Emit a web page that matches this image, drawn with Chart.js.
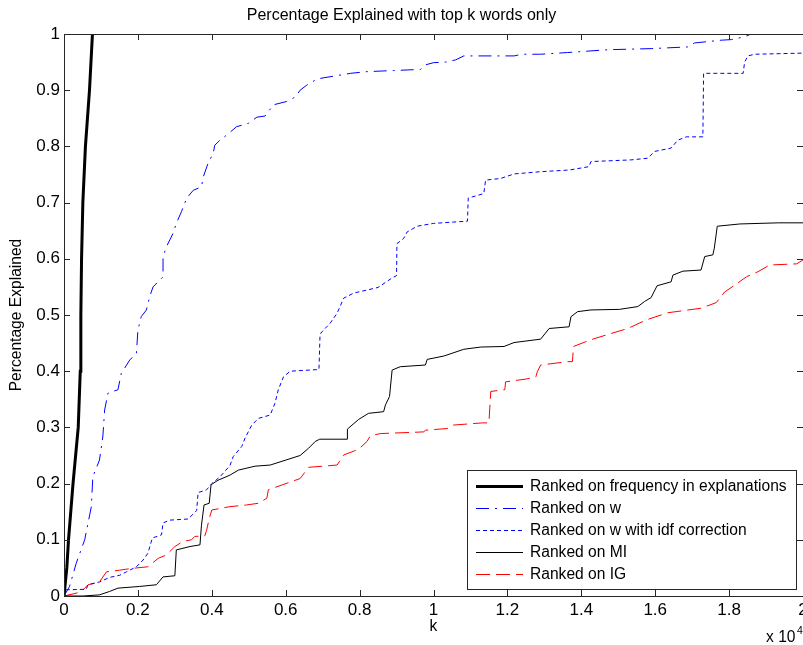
<!DOCTYPE html>
<html>
<head>
<meta charset="utf-8">
<script src="https://cdn.jsdelivr.net/npm/chart.js@4"></script>
<style>
  body { margin: 0; background: #fff; }
</style>
</head>
<body>
<canvas id="pct-chart" width="803" height="645"></canvas>
<script>
var FONT = "'Liberation Sans', Arial, sans-serif";

var seriesLabels = [
  "Ranked on frequency in explanations",
  "Ranked on w",
  "Ranked on w with idf correction",
  "Ranked on MI",
  "Ranked on IG"
];

var xTicks = [0, 2000, 4000, 6000, 8000, 10000, 12000, 14000, 16000, 18000, 20000];
var yTicks = [0, 0.1, 0.2, 0.3, 0.4, 0.5, 0.6, 0.7, 0.8, 0.9, 1];

// ranked on frequency in explanations
var freqK = [0, 76, 122, 244, 385, 440, 456, 475, 510, 580, 690, 770];
var freqPct = [0, 0.05, 0.1, 0.2, 0.3, 0.4, 0.5, 0.6, 0.7, 0.8, 0.9, 1.0];

// ranked on w
var wK = [0, 150, 330, 560, 740, 780, 960, 1050, 1100, 1190, 1460, 1550, 1780, 1960, 2000, 2090, 2230, 2320, 2410,
  2680, 2680, 2770, 2950, 3040, 3180, 3320, 3500, 3720, 3770, 3900, 4040, 4080, 4220, 4400, 4670, 4990, 5220, 5440,
  5670, 6030, 6260, 6390, 6570, 6800, 6930, 7300, 7750, 8200, 8920, 9650, 9780, 10000, 10330, 10600, 10820, 12180,
  12410, 12900, 13630, 14710, 15890, 16880, 17060, 17790, 18060, 18420, 18560, 20000];
var wPct = [0, 0.017, 0.058, 0.1, 0.159, 0.212, 0.242, 0.283, 0.331, 0.361, 0.367, 0.396, 0.42, 0.432, 0.473, 0.497,
  0.509, 0.533, 0.55, 0.568, 0.604, 0.621, 0.645, 0.663, 0.684, 0.708, 0.722, 0.728, 0.746, 0.77, 0.788, 0.802, 0.811,
  0.82, 0.835, 0.841, 0.852, 0.854, 0.874, 0.88, 0.888, 0.9, 0.909, 0.918, 0.921, 0.925, 0.93, 0.933, 0.935, 0.937,
  0.945, 0.949, 0.95, 0.954, 0.961, 0.961, 0.964, 0.964, 0.967, 0.972, 0.974, 0.977, 0.984, 0.989, 0.99, 0.995,
  0.999, 1.0];

// ranked on w with idf correction
var idfK = [0, 30, 600, 650, 960, 1230, 1510, 1690, 1960, 2140, 2270, 2390, 2640, 2680, 2860, 3360, 3590, 3630, 3860,
  4000, 4220, 4490, 4580, 4810, 4900, 5080, 5260, 5580, 5710, 5800, 5940, 6120, 6900, 6930, 7020, 7200, 7390, 7570,
  7840, 8500, 8880, 9000, 9010, 9190, 9290, 9560, 10000, 10920, 10940, 11360, 11410, 11820, 12180, 12900, 13680,
  14210, 14260, 15350, 15800, 15980, 16430, 16610, 16840, 17290, 17310, 18380, 18420, 18510, 18690, 20000];
var idfPct = [0, 0.011, 0.012, 0.02, 0.025, 0.033, 0.037, 0.043, 0.052, 0.064, 0.076, 0.103, 0.109, 0.13, 0.135,
  0.137, 0.152, 0.184, 0.189, 0.2, 0.212, 0.232, 0.248, 0.266, 0.281, 0.304, 0.316, 0.322, 0.343, 0.367, 0.39, 0.4,
  0.403, 0.466, 0.473, 0.485, 0.503, 0.53, 0.539, 0.549, 0.566, 0.57, 0.627, 0.636, 0.648, 0.658, 0.663, 0.667,
  0.708, 0.716, 0.74, 0.743, 0.751, 0.755, 0.758, 0.764, 0.773, 0.776, 0.779, 0.791, 0.797, 0.811, 0.817, 0.817,
  0.93, 0.93, 0.95, 0.961, 0.964, 0.966];

// ranked on MI
var miK = [0, 510, 960, 1230, 1460, 2050, 2500, 2680, 3000, 3040, 3410, 3680, 3720, 3790, 3930, 3980, 4170, 4490,
  4720, 5170, 5580, 6390, 6620, 6800, 6920, 7660, 7670, 7970, 8240, 8650, 8700, 8810, 8880, 9100, 9780, 9830, 10280,
  10820, 11280, 11910, 12180, 12900, 13130, 13670, 13720, 13900, 14260, 15030, 15530, 15710, 15890, 16050, 16430,
  16480, 16750, 17240, 17340, 17560, 17600, 17680, 18290, 19330, 20000];
var miPct = [0, 0, 0.002, 0.008, 0.014, 0.017, 0.02, 0.034, 0.036, 0.082, 0.088, 0.091, 0.126, 0.162, 0.165, 0.198,
  0.206, 0.215, 0.224, 0.231, 0.233, 0.25, 0.263, 0.275, 0.279, 0.279, 0.297, 0.314, 0.325, 0.328, 0.34, 0.355, 0.402,
  0.408, 0.411, 0.421, 0.427, 0.439, 0.443, 0.444, 0.451, 0.457, 0.476, 0.479, 0.497, 0.506, 0.509, 0.51, 0.515,
  0.524, 0.531, 0.552, 0.559, 0.571, 0.578, 0.58, 0.604, 0.607, 0.619, 0.658, 0.662, 0.664, 0.664];

// ranked on IG
var igK = [0, 330, 470, 650, 960, 1150, 1510, 1820, 2270, 2550, 2770, 3000, 3220, 3450, 3540, 3810, 3860, 3930, 4000,
  4490, 4940, 5260, 5490, 5530, 6390, 6530, 6620, 7390, 7570, 7970, 8200, 8290, 8560, 9740, 9780, 10370, 10510,
  11320, 11500, 11550, 11930, 11950, 12500, 12770, 12810, 12900, 13630, 13760, 13790, 14260, 14800, 15260, 15750,
  16340, 17240, 17650, 17880, 18150, 18470, 18780, 19100, 19830, 20000];
var igPct = [0, 0.005, 0.008, 0.02, 0.025, 0.043, 0.046, 0.049, 0.052, 0.067, 0.073, 0.088, 0.097, 0.1, 0.106, 0.107,
  0.117, 0.138, 0.153, 0.159, 0.162, 0.165, 0.174, 0.189, 0.209, 0.221, 0.229, 0.233, 0.251, 0.261, 0.275, 0.285,
  0.289, 0.292, 0.295, 0.298, 0.304, 0.308, 0.308, 0.364, 0.367, 0.381, 0.386, 0.39, 0.399, 0.411, 0.417, 0.417,
  0.444, 0.456, 0.467, 0.476, 0.491, 0.504, 0.512, 0.522, 0.541, 0.553, 0.568, 0.577, 0.589, 0.591, 0.598];

function pairs(ks, vals) {
  return ks.map(function (k, i) { return { x: k, y: vals[i] }; });
}

function line(label, ks, vals, color, width, dash) {
  return {
    label: label,
    data: pairs(ks, vals),
    borderColor: color,
    backgroundColor: color,
    borderWidth: width,
    borderDash: dash,
    pointRadius: 0,
    tension: 0,
    fill: false
  };
}

function fmtNum(v) {
  return String(Number(v.toFixed(1)));
}

// MATLAB style box: frame, inward ticks, legend and the x 10^4 exponent
var matlabBox = {
  id: "matlabBox",
  afterDraw: function (chart) {
    var ctx = chart.ctx;
    var a = chart.chartArea;
    var xs = chart.scales.x, ys = chart.scales.y;
    ctx.save();
    ctx.strokeStyle = "#262626";
    ctx.lineWidth = 1;
    ctx.setLineDash([]);
    ctx.strokeRect(Math.round(a.left) + 0.5, Math.round(a.top) + 0.5,
      Math.round(a.right - a.left), Math.round(a.bottom - a.top));
    ctx.beginPath();
    xTicks.forEach(function (t) {
      var px = Math.round(xs.getPixelForValue(t)) + 0.5;
      ctx.moveTo(px, a.bottom); ctx.lineTo(px, a.bottom - 6);
      ctx.moveTo(px, a.top); ctx.lineTo(px, a.top + 6);
    });
    yTicks.forEach(function (t) {
      var py = Math.round(ys.getPixelForValue(t)) + 0.5;
      ctx.moveTo(a.left, py); ctx.lineTo(a.left + 6, py);
      ctx.moveTo(a.right, py); ctx.lineTo(a.right - 6, py);
    });
    ctx.stroke();

    // legend
    var bx = 467.5, by = 470.5, bw = 329, bh = 119;
    ctx.fillStyle = "#fff";
    ctx.fillRect(bx, by, bw, bh);
    ctx.strokeStyle = "#262626";
    ctx.strokeRect(bx, by, bw, bh);
    ctx.font = "15.6px " + FONT;
    ctx.textBaseline = "middle";
    ctx.textAlign = "left";
    chart.data.datasets.forEach(function (ds, i) {
      var y = Math.round(by + 15 + i * 22) + 0.5;
      ctx.beginPath();
      ctx.strokeStyle = ds.borderColor;
      ctx.lineWidth = ds.borderWidth;
      ctx.setLineDash(ds.borderDash || []);
      ctx.moveTo(476, y); ctx.lineTo(523, y);
      ctx.stroke();
      ctx.fillStyle = "#000";
      ctx.fillText(ds.label, 530, y);
    });
    ctx.setLineDash([]);

    // exponent
    ctx.fillStyle = "#000";
    ctx.textBaseline = "alphabetic";
    ctx.font = "15.6px " + FONT;
    ctx.fillText("x 10", 766, 642);
    ctx.font = "10.5px " + FONT;
    ctx.fillText("4", 797, 634);
    ctx.restore();
  }
};

new Chart("pct-chart", {
  type: "line",
  data: {
    datasets: [
      line(seriesLabels[0], freqK, freqPct, "#000000", 3, []),
      line(seriesLabels[1], wK, wPct, "#0000ff", 1, [13, 6, 2, 6]),
      line(seriesLabels[2], idfK, idfPct, "#0000ff", 1, [4, 3]),
      line(seriesLabels[3], miK, miPct, "#000000", 1, []),
      line(seriesLabels[4], igK, igPct, "#ff0000", 1, [14, 6])
    ]
  },
  plugins: [matlabBox],
  options: {
    responsive: false,
    animation: false,
    layout: { padding: { left: 0, right: 0, top: 0, bottom: 0 } },
    plugins: {
      legend: { display: false },
      tooltip: { enabled: false },
      title: {
        display: true,
        text: "Percentage Explained with top k words only",
        color: "#000",
        font: { family: FONT, size: 16, weight: "normal" },
        padding: { top: 6, bottom: 8.8 }
      }
    },
    scales: {
      x: {
        type: "linear",
        min: 0,
        max: 20000,
        afterBuildTicks: function (scale) {
          scale.ticks = xTicks.map(function (v) { return { value: v }; });
        },
        ticks: {
          color: "#000",
          font: { family: FONT, size: 17 },
          padding: 4,
          maxRotation: 0,
          autoSkip: false,
          callback: function (v) { return fmtNum(v / 10000); }
        },
        grid: { display: false, drawTicks: false },
        border: { display: false },
        title: {
          display: true,
          text: "k",
          color: "#000",
          font: { family: FONT, size: 15.6 },
          padding: { top: 0, bottom: 8.6 }
        },
        afterFit: function (scale) {
          scale.height = 49;
          scale.paddingLeft = 0;
          scale.paddingRight = 0;
        }
      },
      y: {
        min: 0,
        max: 1,
        afterBuildTicks: function (scale) {
          scale.ticks = yTicks.map(function (v) { return { value: v }; });
        },
        ticks: {
          color: "#000",
          font: { family: FONT, size: 17 },
          padding: 4,
          autoSkip: false,
          callback: function (v) { return fmtNum(v); }
        },
        grid: { display: false, drawTicks: false },
        border: { display: false },
        title: {
          display: true,
          text: "Percentage Explained",
          color: "#000",
          font: { family: FONT, size: 15.6 },
          padding: { top: 7.6, bottom: 0 }
        },
        afterFit: function (scale) {
          scale.width = 64;
          scale.paddingTop = 0;
          scale.paddingBottom = 0;
        }
      }
    }
  }
});
</script>
</body>
</html>
